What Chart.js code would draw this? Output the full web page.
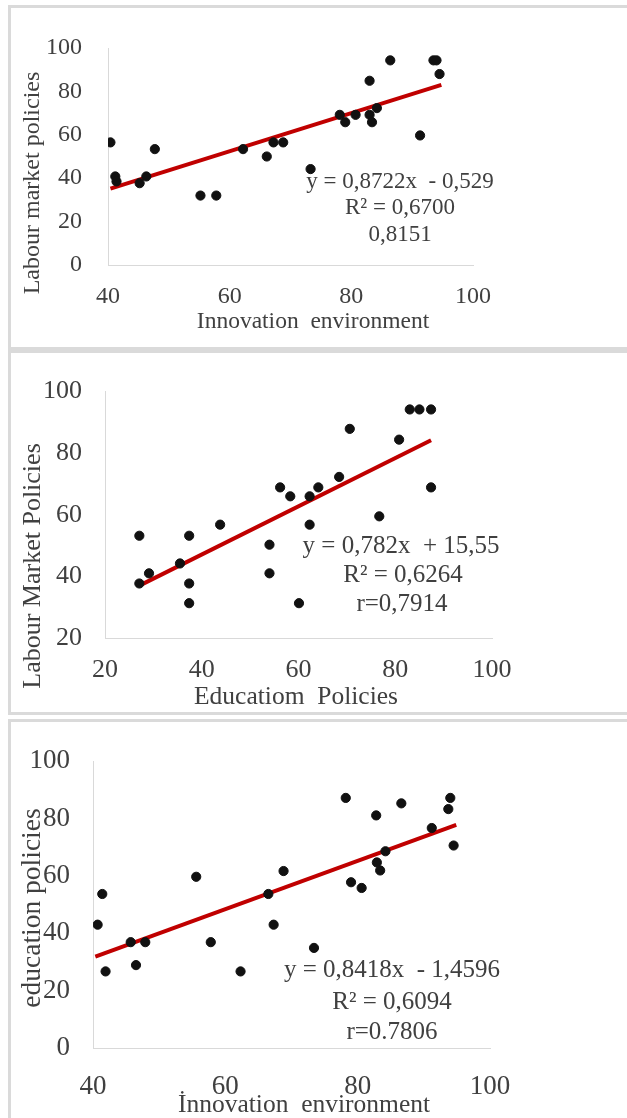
<!DOCTYPE html>
<html>
<head>
<meta charset="utf-8">
<script src="https://cdn.jsdelivr.net/npm/chart.js@4.4.1/dist/chart.umd.min.js"></script>
<style>
  html, body { margin: 0; padding: 0; background: #fff; overflow: hidden; }
  body { width: 627px; height: 1118px; position: relative; }
  .frame { position: absolute; left: 8px; width: 700px; border: 3px solid #dadada; border-right: none; box-sizing: border-box; }
  .plot { position: absolute; left: 0; }
</style>
</head>
<body>
<div class="frame" style="top:5px;height:345px;"></div>
<div class="frame" style="top:350px;height:365px;"></div>
<div class="frame" style="top:719px;height:420px;border-bottom:none;"></div>

<div class="plot" style="top:0px;width:627px;height:347px;"><canvas id="c1"></canvas></div>
<div class="plot" style="top:353px;width:627px;height:362px;"><canvas id="c2"></canvas></div>
<div class="plot" style="top:722px;width:627px;height:396px;"><canvas id="c3"></canvas></div>

<script>
// ── DATA ───────────────────────────────────────────────────────────────────

// Panel 1: innovation environment vs labour market policies
const P1_X = [40.4, 41.2, 41.4, 45.2, 46.3, 47.7, 55.2, 57.8, 62.2, 66.1, 67.2, 68.8, 73.3,
              78.1, 79.0, 80.7, 83.0, 83.0, 83.4, 84.2, 86.4, 91.3, 93.5, 94.0, 94.5];
const P1_Y = [56.5, 40.8, 38.5, 37.7, 40.8, 53.4, 32.0, 32.0, 53.4, 50.0, 56.5, 56.5, 44.2,
              69.2, 65.8, 69.2, 84.9, 69.2, 65.8, 72.3, 94.3, 59.7, 94.3, 94.3, 88.0];
const P1_TREND_X = [40.4, 94.8];
const P1_TREND_Y = [35.2, 83.0];
const P1_TEXT = ['y = 0,8722x  - 0,529', 'R² = 0,6700', '0,8151'];

// Panel 2: education policies vs labour market policies
const P2_X = [27.1, 27.1, 29.1, 35.5, 37.4, 37.4, 37.4, 43.8, 54.0, 54.0, 56.2, 58.3,
              60.1, 62.3, 62.3, 64.1, 68.4, 70.6, 76.7, 80.8, 83.0, 85.0, 87.4, 87.4];
const P2_Y = [53.2, 37.7, 41.0, 44.2, 53.2, 37.7, 31.3, 56.8, 50.3, 41.0, 68.9, 66.0,
              31.3, 66.0, 56.8, 68.9, 72.3, 87.9, 59.5, 84.4, 94.2, 94.2, 94.2, 68.9];
const P2_TREND_X = [27.1, 87.4];
const P2_TREND_Y = [37.0, 84.2];
const P2_TEXT = ['y = 0,782x  + 15,55', 'R² = 0,6264', 'r=0,7914'];

// Panel 3: innovation environment vs education policies
const P3_X = [40.7, 41.4, 41.9, 45.7, 46.5, 47.9, 55.6, 57.8, 62.3, 66.5, 67.3, 68.8, 73.4,
              78.2, 79.0, 80.6, 82.8, 82.9, 83.4, 84.2, 86.6, 91.2, 93.7, 94.0, 94.5];
const P3_Y = [43.0, 53.7, 26.7, 36.9, 28.9, 36.9, 59.7, 36.9, 26.7, 53.7, 43.0, 61.7, 34.9,
              87.2, 57.8, 55.8, 81.1, 64.7, 61.9, 68.6, 85.3, 76.7, 83.3, 87.2, 70.6];
const P3_TREND_X = [40.35, 94.9];
const P3_TREND_Y = [31.9, 77.8];
const P3_TEXT = ['y = 0,8418x  - 1,4596', 'R² = 0,6094', 'r=0.7806'];

// ── HELPERS ────────────────────────────────────────────────────────────────

const SERIF = "'Liberation Serif', 'Times New Roman', serif";
const TEXT_COLOR = '#404040';

const pairs = (xs, ys) => xs.map((x, i) => ({ x, y: ys[i] }));

// axis titles + regression text block (equation, R², r)
const textPlugin = {
  id: 'panelText',
  afterDatasetsDraw(chart, args, o) {
    const ctx = chart.ctx;
    ctx.save();
    ctx.fillStyle = TEXT_COLOR;
    ctx.textAlign = 'center';
    ctx.textBaseline = 'middle';

    ctx.font = `${o.eqSize}px ${SERIF}`;
    o.lines.forEach((t, i) => ctx.fillText(t, o.eqX[i], o.eqY[i]));

    ctx.font = `${o.titleSize}px ${SERIF}`;
    ctx.fillText(o.xTitle, o.xTitlePos[0], o.xTitlePos[1]);

    ctx.translate(o.yTitlePos[0], o.yTitlePos[1]);
    ctx.rotate(-Math.PI / 2);
    ctx.font = `${o.yTitleSize}px ${SERIF}`;
    ctx.fillText(o.yTitle, 0, 0);
    ctx.restore();
  },
};

function buildChart(id, cfg) {
  new Chart(document.getElementById(id), {
    type: 'scatter',
    data: {
      datasets: [
        {
          type: 'line',
          data: pairs(cfg.trendX, cfg.trendY),
          borderColor: '#c00000',
          borderWidth: 4,
          pointRadius: 0,
          fill: false,
          order: 2,
        },
        {
          data: pairs(cfg.xs, cfg.ys),
          backgroundColor: '#111',
          borderColor: '#111',
          pointRadius: 4.6,
          order: 1,
        },
      ],
    },
    options: {
      responsive: true,
      maintainAspectRatio: false,
      animation: false,
      layout: { padding: cfg.padding },
      plugins: {
        legend: { display: false },
        tooltip: { enabled: false },
        panelText: cfg.text,
      },
      scales: {
        x: {
          type: 'linear',
          min: cfg.xMin, max: 100,
          afterFit: s => { s.height = cfg.xHeight; },
          ticks: { stepSize: 20, color: TEXT_COLOR, padding: cfg.xTickPad, font: { family: SERIF, size: cfg.tickSize } },
          grid: { display: false, drawTicks: false, tickLength: 0 },
          border: { display: true, color: '#d9d9d9', width: 1 },
        },
        y: {
          min: cfg.yMin, max: 100,
          afterFit: s => { s.width = cfg.yWidth; },
          ticks: { stepSize: 20, color: TEXT_COLOR, padding: cfg.yTickPad, font: { family: SERIF, size: cfg.tickSize } },
          grid: { display: false, drawTicks: false, tickLength: 0 },
          border: { display: true, color: '#d9d9d9', width: 1 },
        },
      },
    },
    plugins: [textPlugin],
  });
}

// ── INIT ───────────────────────────────────────────────────────────────────

buildChart('c1', {
  xs: P1_X, ys: P1_Y, trendX: P1_TREND_X, trendY: P1_TREND_Y,
  xMin: 40, yMin: 0, tickSize: 24,
  padding: { left: 12, right: 154, top: 48, bottom: 10 },
  yWidth: 96, xHeight: 72, xTickPad: 17, yTickPad: 26,
  text: {
    lines: P1_TEXT, eqSize: 23, eqX: [400, 400, 400], eqY: [182, 208, 235],
    titleSize: 23.5, xTitle: 'Innovation  environment', xTitlePos: [313, 322],
    yTitleSize: 24, yTitle: 'Labour market policies', yTitlePos: [33, 183],
  },
});

buildChart('c2', {
  xs: P2_X, ys: P2_Y, trendX: P2_TREND_X, trendY: P2_TREND_Y,
  xMin: 20, yMin: 20, tickSize: 26,
  padding: { left: 12, right: 135, top: 32, bottom: 4 },
  yWidth: 93, xHeight: 73, xTickPad: 17, yTickPad: 23,
  text: {
    lines: P2_TEXT, eqSize: 25, eqX: [401, 403, 402], eqY: [193, 222, 251],
    titleSize: 25.5, xTitle: 'Educatiom  Policies', xTitlePos: [296, 344],
    yTitleSize: 26, yTitle: 'Labour Market Policies', yTitlePos: [33, 213],
  },
});

buildChart('c3', {
  xs: P3_X, ys: P3_Y, trendX: P3_TREND_X, trendY: P3_TREND_Y,
  xMin: 40, yMin: 0, tickSize: 27,
  padding: { left: 12, right: 137, top: 26, bottom: 0 },
  yWidth: 81, xHeight: 70, xTickPad: 23, yTickPad: 23,
  text: {
    lines: P3_TEXT, eqSize: 25, eqX: [392, 392, 392], eqY: [248, 280, 310],
    titleSize: 25.5, xTitle: 'İnnovation  environment', xTitlePos: [304, 383],
    yTitleSize: 27.5, yTitle: 'education policies', yTitlePos: [33, 186],
  },
});
</script>
</body>
</html>
